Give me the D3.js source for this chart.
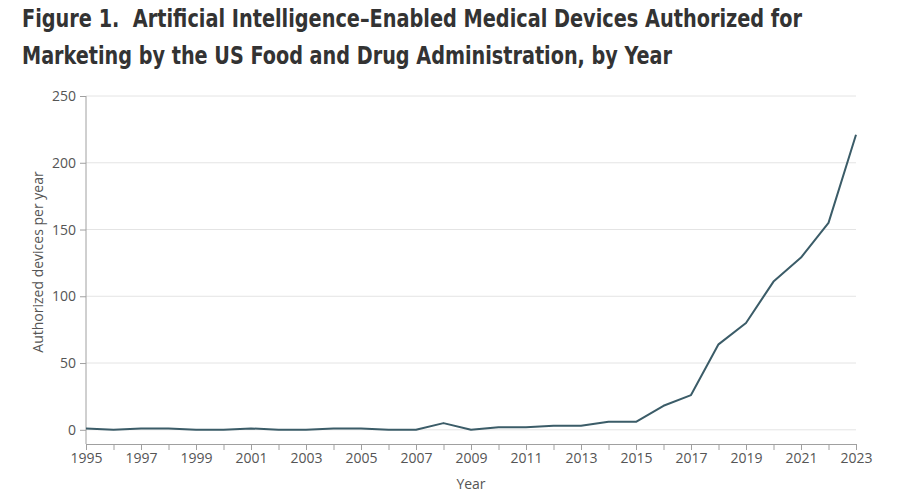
<!DOCTYPE html>
<html><head><meta charset="utf-8">
<script src="https://cdn.jsdelivr.net/npm/d3@7"></script>
<style>body{margin:0;background:#fff}svg{display:block}text.title{white-space:pre}</style>
</head><body>
<svg id="c" width="897" height="498"></svg>
<script>
const years = [1995,1996,1997,1998,1999,2000,2001,2002,2003,2004,2005,2006,2007,2008,2009,2010,2011,2012,2013,2014,2015,2016,2017,2018,2019,2020,2021,2022,2023];
const devices = [1,0,1,1,0,0,1,0,0,1,1,0,0,5,0,2,2,3,3,6,6,18,26,64,80,111,129,155,221];
const yTicks = [0,50,100,150,200,250];
const xTickLabels = [1995,1997,1999,2001,2003,2005,2007,2009,2011,2013,2015,2017,2019,2021,2023];
const titleLines = ["Figure 1.  Artificial Intelligence–Enabled Medical Devices Authorized for","Marketing by the US Food and Drug Administration, by Year"];

const svg = d3.select("#c");
const L = 86, R = 856, T = 96, Z = 429.8, AX = 444;
const x = d3.scaleLinear().domain([1995,2023]).range([L,R]);
const y = d3.scaleLinear().domain([0,250]).range([Z,T]);
const tickFont = "'Open Sans', 'Noto Sans', sans-serif";

// title
svg.selectAll("text.title").data(titleLines).join("text")
  .attr("class","title")
  .attr("x",22).attr("y",(d,i)=>27+i*37)
  .attr("font-family","'Liberation Sans Narrow', 'DejaVu Sans Condensed', sans-serif")
  .attr("font-weight","bold").attr("font-size",24).attr("fill","#333")
  .text(d=>d);
const tw = [780, 650];
svg.selectAll("text.title").each(function(d,i){
  d3.select(this).attr("textLength", tw[i]).attr("lengthAdjust","spacingAndGlyphs");
});

// gridlines
svg.append("g").selectAll("line").data(yTicks).join("line")
  .attr("x1",L).attr("x2",R).attr("y1",d=>y(d)).attr("y2",d=>y(d))
  .attr("stroke","#e4e4e4").attr("stroke-width",1);

// y axis
const ya = svg.append("g").attr("transform",`translate(${L},0)`)
  .call(d3.axisLeft(y).tickValues(yTicks).tickSize(6).tickPadding(4).tickSizeOuter(0));
ya.select(".domain").remove();
ya.append("line").attr("x1",0).attr("x2",0).attr("y1",T).attr("y2",AX).attr("stroke","#a0a0a0");
ya.selectAll(".tick line").attr("stroke","#a0a0a0");
ya.selectAll(".tick text").attr("font-family",tickFont).attr("font-size",14).attr("fill","#555");

// x axis
const xa = svg.append("g").attr("transform",`translate(0,${AX})`)
  .call(d3.axisBottom(x).tickValues(years).tickSize(6).tickPadding(3).tickSizeOuter(0)
    .tickFormat(d=>xTickLabels.includes(d)?String(d):""));
xa.select(".domain").attr("stroke","#a0a0a0").attr("d",`M${L},0.5H${R}`);
xa.selectAll(".tick line").attr("stroke","#a0a0a0");
xa.selectAll(".tick text").attr("font-family",tickFont).attr("font-size",14).attr("fill","#555");

// axis titles
svg.append("text").attr("x",471).attr("y",489).attr("text-anchor","middle")
  .attr("font-family",tickFont).attr("font-size",14).attr("fill","#555").text("Year");
svg.append("text").attr("transform",`translate(43,262) rotate(-90)`).attr("text-anchor","middle")
  .attr("font-family",tickFont).attr("font-size",14).attr("fill","#555").text("Authorized devices per year");

// line
svg.append("path").datum(years.map((yr,i)=>[yr,devices[i]]))
  .attr("fill","none").attr("stroke","#3b5c68").attr("stroke-width",2).attr("stroke-linejoin","round")
  .attr("d",d3.line().x(d=>x(d[0])).y(d=>y(d[1])));
</script>
</body></html>
